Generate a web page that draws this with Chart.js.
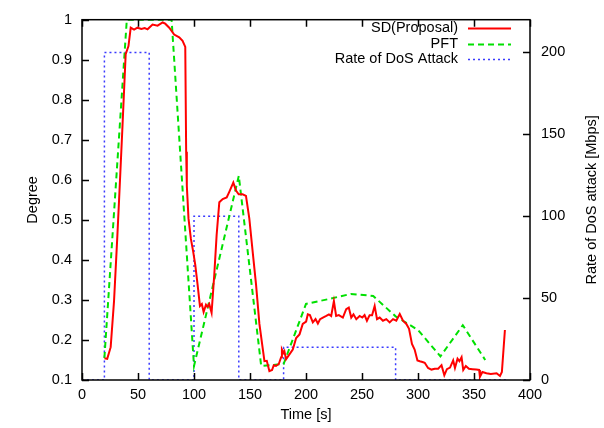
<!DOCTYPE html>
<html>
<head>
<meta charset="utf-8">
<script src="https://cdn.jsdelivr.net/npm/chart.js@4/dist/chart.umd.min.js"></script>
<style>
  html, body { margin: 0; padding: 0; background: #fff; }
  #wrap { width: 604px; height: 428px; }
</style>
</head>
<body>
<div id="wrap"><canvas id="chart" width="604" height="428"></canvas></div>
<script>
// tick labels
const timeTicks = [0, 50, 100, 150, 200, 250, 300, 350, 400];
const degreeTicks = [0.1, 0.2, 0.3, 0.4, 0.5, 0.6, 0.7, 0.8, 0.9, 1];
const rateTicks = [0, 50, 100, 150, 200];

// SD (Proposal)
const sdTime = [20, 22.5, 25.6, 28.6, 31.6, 33, 36, 39, 41.5, 43.5, 46.5, 49.5, 53, 56, 58.5, 63, 67.5, 72, 74.3, 77.9,
  82.3, 86.8, 89.8, 92.2, 93, 93.6, 95.1, 97.2, 99.3, 101.1, 103.2, 105.3, 107, 108.6, 110.7, 112, 113.6, 115.7, 118.1, 120.2,
  122.6, 125.6, 129.2, 131.5, 135.1, 137.5, 139.9, 143.4, 146.4, 149.4, 152.4, 155.4, 158.4, 160.8, 162.9, 165, 167.3, 169.7, 171.2, 173.2,
  175.7, 177.8, 178.5, 179.8, 180.7, 182.2, 185.2, 188.2, 191.2, 194.2, 197.1, 200.1, 201.6, 203.5, 206.1, 208.5, 210.6, 212.6, 215.1, 218.1,
  220.5, 222.5, 224.9, 226.9, 229.3, 232.9, 235.9, 238.2, 240.4, 242.4, 244.9, 247.9, 250.3, 252.3, 254.4, 256.8, 259, 261.3, 263.4, 265.8,
  268.7, 271.7, 274.7, 277.7, 280.6, 283.7, 286.6, 289.6, 292, 294.6, 297, 299.5, 301.6, 304, 306, 309, 312, 315, 318, 321,
  323.5, 325.8, 328.6, 331.4, 333, 335.3, 337, 338.9, 340.4, 342.7, 345.5, 348.6, 352, 354.6, 355.3, 357.5, 361.1, 365, 370.2, 373.2,
  374.9, 377.6];
const sdDegree = [0.154, 0.153, 0.182, 0.297, 0.462, 0.544, 0.725, 0.914, 0.934, 0.98, 0.975, 0.98, 0.977, 0.979, 0.976, 0.988, 0.985, 0.993, 0.99, 0.98,
  0.963, 0.956, 0.947, 0.932, 0.67, 0.585, 0.503, 0.453, 0.42, 0.388, 0.338, 0.285, 0.29, 0.27, 0.288, 0.283, 0.29, 0.268, 0.363, 0.462,
  0.544, 0.552, 0.556, 0.57, 0.593, 0.573, 0.564, 0.564, 0.56, 0.503, 0.42, 0.338, 0.24, 0.19, 0.147, 0.148, 0.122, 0.125, 0.137, 0.135,
  0.14, 0.157, 0.176, 0.168, 0.172, 0.152, 0.164, 0.176, 0.205, 0.214, 0.24, 0.246, 0.264, 0.262, 0.244, 0.252, 0.241, 0.252, 0.256, 0.26,
  0.264, 0.26, 0.297, 0.26, 0.262, 0.256, 0.277, 0.281, 0.256, 0.264, 0.252, 0.26, 0.256, 0.262, 0.248, 0.262, 0.262, 0.285, 0.252, 0.256,
  0.248, 0.252, 0.244, 0.252, 0.248, 0.265, 0.248, 0.24, 0.228, 0.19, 0.176, 0.149, 0.147, 0.145, 0.143, 0.13, 0.126, 0.128, 0.128, 0.137,
  0.112, 0.127, 0.131, 0.149, 0.13, 0.153, 0.147, 0.157, 0.125, 0.135, 0.128, 0.127, 0.126, 0.125, 0.108, 0.12, 0.117, 0.115, 0.117, 0.11,
  0.12, 0.225];

// PFT
const pftTime = [20, 40, 60, 80, 100, 140, 160, 180, 200, 220, 240, 260, 280, 300, 320, 340, 360];
const pftDegree = [0.155, 1.0, 1.0, 1.0, 0.135, 0.61, 0.135, 0.14, 0.29, 0.302, 0.315, 0.31, 0.259, 0.225, 0.159, 0.237, 0.15];

// Rate of DoS Attack [Mbps]
const dosTime = [0, 20, 20, 60, 60, 100, 100, 140, 140, 180, 180, 280, 280, 380];
const dosRate = [0, 0, 200, 200, 0, 0, 100, 100, 0, 0, 20, 20, 0, 0];

const FONT = "'Liberation Sans', Arial, sans-serif";
const FSIZE = 14.5;

const toPoints = (xs, ys) => xs.map((x, i) => ({ x: x, y: ys[i] }));

const frame = {
  id: 'frame',
  afterDraw(chart) {
    const ctx = chart.ctx;
    const a = chart.chartArea;
    const sx = chart.scales.x, sy = chart.scales.y, sy2 = chart.scales.y2;
    const tl = 7;
    ctx.save();
    ctx.strokeStyle = '#000';
    ctx.lineWidth = 1.5;
    ctx.beginPath();
    timeTicks.forEach(v => {
      const px = Math.round(sx.getPixelForValue(v)) + 0.5;
      ctx.moveTo(px, a.bottom); ctx.lineTo(px, a.bottom - tl);
      ctx.moveTo(px, a.top); ctx.lineTo(px, a.top + tl);
    });
    degreeTicks.forEach(v => {
      const py = Math.round(sy.getPixelForValue(v)) + 0.5;
      ctx.moveTo(a.left, py); ctx.lineTo(a.left + tl, py);
    });
    rateTicks.forEach(v => {
      const py = Math.round(sy2.getPixelForValue(v)) + 0.5;
      ctx.moveTo(a.right, py); ctx.lineTo(a.right - tl, py);
    });
    ctx.stroke();
    ctx.strokeRect(a.left, a.top, a.right - a.left, a.bottom - a.top);

    // axis titles
    ctx.fillStyle = '#000';
    ctx.font = FSIZE + 'px ' + FONT;
    ctx.textAlign = 'center';
    ctx.textBaseline = 'middle';
    ctx.fillText('Time [s]', (a.left + a.right) / 2, 415);
    ctx.save();
    ctx.translate(33, (a.top + a.bottom) / 2);
    ctx.rotate(-Math.PI / 2);
    ctx.fillText('Degree', 0, 0);
    ctx.restore();
    ctx.save();
    ctx.translate(592, (a.top + a.bottom) / 2);
    ctx.rotate(-Math.PI / 2);
    ctx.fillText('Rate of DoS attack [Mbps]', 0, 0);
    ctx.restore();

    // legend, gnuplot style
    const rows = [28, 44, 59];
    ctx.textAlign = 'right';
    chart.data.datasets.forEach((ds, i) => {
      const y = rows[i];
      ctx.fillStyle = '#000';
      ctx.fillText(ds.label, 458, y);
      ctx.strokeStyle = ds.borderColor;
      ctx.lineWidth = ds.borderWidth;
      ctx.setLineDash(ds.borderDash || []);
      ctx.beginPath();
      ctx.moveTo(468, y + 0.5);
      ctx.lineTo(511, y + 0.5);
      ctx.stroke();
    });
    ctx.setLineDash([]);
    ctx.restore();
  }
};

new Chart(document.getElementById('chart'), {
  type: 'line',
  data: {
    datasets: [{
      label: 'SD(Proposal)',
      data: toPoints(sdTime, sdDegree),
      yAxisID: 'y',
      borderColor: '#ff0000',
      borderWidth: 2,
      pointRadius: 0,
      tension: 0
    }, {
      label: 'PFT',
      data: toPoints(pftTime, pftDegree),
      yAxisID: 'y',
      borderColor: '#00e000',
      borderWidth: 2,
      borderDash: [6, 4],
      pointRadius: 0,
      tension: 0
    }, {
      label: 'Rate of DoS Attack',
      data: toPoints(dosTime, dosRate),
      yAxisID: 'y2',
      borderColor: '#3a3aff',
      borderWidth: 1.5,
      borderDash: [2, 3],
      pointRadius: 0,
      tension: 0
    }]
  },
  options: {
    responsive: false,
    animation: false,
    layout: { padding: { top: 15, left: 0, right: 0, bottom: 0 } },
    plugins: {
      legend: { display: false },
      tooltip: { enabled: false }
    },
    scales: {
      x: {
        type: 'linear',
        min: 0,
        max: 400,
        afterBuildTicks: s => { s.ticks = timeTicks.map(v => ({ value: v })); },
        afterFit: s => { s.height = 48; },
        grid: { display: false, drawTicks: false },
        border: { display: false },
        ticks: { color: '#000', font: { family: FONT, size: FSIZE }, padding: 6, maxRotation: 0 }
      },
      y: {
        position: 'left',
        min: 0.1,
        max: 1,
        afterBuildTicks: s => { s.ticks = degreeTicks.map(v => ({ value: v })); },
        afterFit: s => { s.width = 82; },
        grid: { display: false, drawTicks: false },
        border: { display: false },
        ticks: {
          color: '#000', font: { family: FONT, size: FSIZE }, padding: 10,
          callback: v => (v === 1 ? '1' : v.toFixed(1))
        }
      },
      y2: {
        position: 'right',
        min: 0,
        max: 220,
        afterBuildTicks: s => { s.ticks = rateTicks.map(v => ({ value: v })); },
        afterFit: s => { s.width = 74; },
        grid: { display: false, drawTicks: false },
        border: { display: false },
        ticks: { color: '#000', font: { family: FONT, size: FSIZE }, padding: 11 }
      }
    }
  },
  plugins: [frame]
});
</script>
</body>
</html>
